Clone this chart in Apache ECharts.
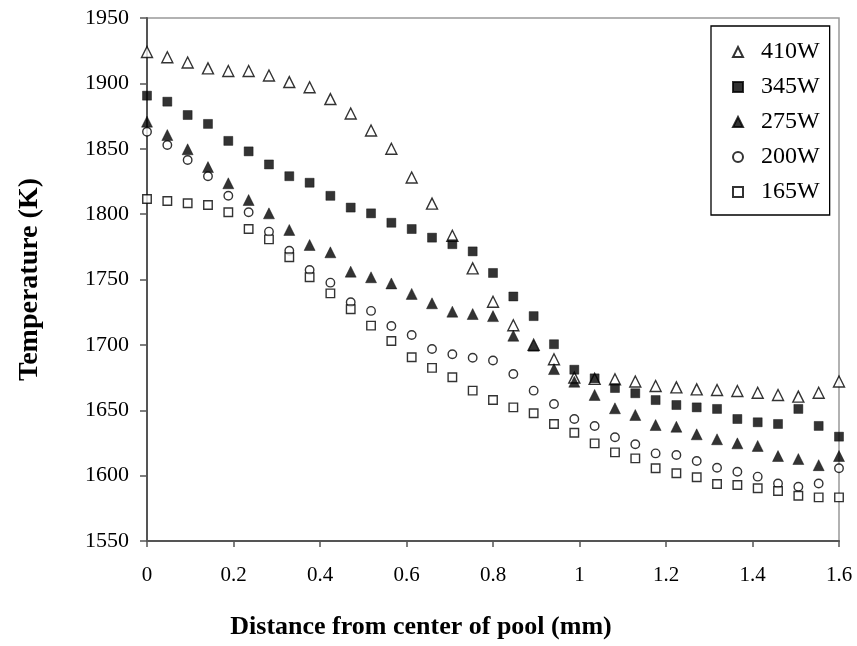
<!DOCTYPE html>
<html>
<head>
<meta charset="utf-8">
<script src="https://cdn.jsdelivr.net/npm/echarts@6/dist/echarts.min.js"></script>
<style>html,body{margin:0;padding:0;background:#fff}#c{width:857px;height:646px}</style>
</head>
<body>
<div id="c"></div>
<script>
var xVals = [0, 0.047, 0.094, 0.141, 0.188, 0.235, 0.282, 0.329, 0.376, 0.424, 0.471, 0.518, 0.565, 0.612, 0.659, 0.706, 0.753, 0.8, 0.847, 0.894, 0.941, 0.988, 1.035, 1.082, 1.129, 1.176, 1.224, 1.271, 1.318, 1.365, 1.412, 1.459, 1.506, 1.553, 1.6];
var t410 = [1924, 1920, 1916, 1911.5, 1909.5, 1909.5, 1906, 1901, 1897, 1888, 1877, 1864, 1850, 1828, 1808, 1783.5, 1758.5, 1733, 1715, 1700, 1689, 1675, 1674, 1673.7, 1672, 1668.5, 1667.5, 1666, 1665.5, 1664.7, 1663.4, 1661.7, 1660.4, 1663.4, 1672];
var t345 = [1890.6, 1886, 1875.8, 1869, 1856, 1848, 1838, 1829, 1824, 1814, 1805, 1800.6, 1793.4, 1788.6, 1782, 1777, 1771.5, 1755, 1737, 1722, 1700.5, 1681, 1674.4, 1667, 1663, 1657.8, 1654, 1652.2, 1651, 1643.3, 1640.8, 1639.5, 1651, 1638, 1629.8];
var t275 = [1870.7, 1860.5, 1849.6, 1836, 1823.6, 1810.8, 1800.6, 1787.9, 1776.4, 1770.8, 1756, 1751.7, 1747, 1739, 1731.8, 1725.4, 1723.6, 1722, 1707, 1699.4, 1681.5, 1671.8, 1661.7, 1651.5, 1646.4, 1638.7, 1637.4, 1631.6, 1627.8, 1624.7, 1622.7, 1615, 1612.7, 1608, 1615];
var t200 = [1863, 1852.9, 1841.4, 1829, 1814, 1801.4, 1786.6, 1772, 1757.3, 1747.6, 1732.6, 1726, 1714.4, 1707.6, 1696.8, 1692.8, 1690.2, 1688, 1677.7, 1665, 1654.8, 1643.3, 1638, 1629.3, 1624, 1617, 1615.8, 1611.2, 1606, 1603, 1599.2, 1594, 1591.5, 1594, 1605.6];
var t165 = [1811.6, 1810, 1808.3, 1807, 1801.4, 1788.6, 1780.7, 1767, 1751.7, 1739.4, 1727.2, 1714.7, 1703, 1690.5, 1682.4, 1675.2, 1665, 1657.8, 1652.2, 1647.7, 1639.5, 1632.8, 1624.7, 1617.8, 1613.2, 1605.6, 1601.8, 1598.7, 1593.6, 1592.8, 1590.3, 1588.2, 1584.6, 1583.4, 1583.4];
var seriesNames = ['410W', '345W', '275W', '200W', '165W'];

var FONT = 'Liberation Serif, Times New Roman, serif';
function pairs(ys) { return xVals.map(function (x, i) { return [x, ys[i]]; }); }
function mk(name, ys, symbol, size, filled) {
  return {
    name: name, type: 'scatter', data: pairs(ys), symbol: symbol, symbolSize: size,
    itemStyle: filled ? { color: '#000', borderColor: '#000', borderWidth: 0.5 }
                      : { color: '#fff', borderColor: '#000', borderWidth: 1.4 },
    emphasis: { disabled: true }
  };
}
var chart = echarts.init(document.getElementById('c'), null, { renderer: 'canvas' });
chart.setOption({
  animation: false,
  backgroundColor: '#fff',
  grid: { left: 147, right: 18, top: 18, bottom: 105, show: true, borderColor: '#999', borderWidth: 1.5, backgroundColor: 'transparent' },
  xAxis: {
    type: 'value', min: 0, max: 1.6, interval: 0.2,
    name: 'Distance from center of pool (mm)', nameLocation: 'middle', nameGap: 73,
    nameTextStyle: { fontFamily: FONT, fontSize: 26, fontWeight: 'bold', color: '#000', padding: [0, 144, 0, 0] },
    axisLine: { show: true, lineStyle: { color: '#555', width: 2 } },
    axisTick: { show: true, inside: false, length: 6, lineStyle: { color: '#555', width: 1.5 } },
    axisLabel: { fontFamily: FONT, fontSize: 21, color: '#000', margin: 24, formatter: function (v) { return String(v); } },
    splitLine: { show: false }
  },
  yAxis: {
    type: 'value', min: 1550, max: 1950, interval: 50,
    name: 'Temperature (K)', nameLocation: 'middle', nameGap: 103,
    nameTextStyle: { fontFamily: FONT, fontSize: 28, fontWeight: 'bold', color: '#000' },
    axisLine: { show: true, lineStyle: { color: '#555', width: 2 } },
    axisTick: { show: true, inside: false, length: 7, lineStyle: { color: '#555', width: 1.5 } },
    axisLabel: { fontFamily: FONT, fontSize: 22, color: '#000', margin: 18, formatter: function (v) { return String(v); } },
    splitLine: { show: false }
  },
  legend: {
    orient: 'vertical', left: 711, top: 26,
    data: seriesNames,
    itemWidth: 10, itemHeight: 10, itemGap: 11,
    padding: [14, 10, 11, 21],
    borderColor: '#000', borderWidth: 1.3, backgroundColor: '#fff',
    textStyle: { fontFamily: FONT, fontSize: 24, color: '#000', lineHeight: 24, padding: [0, 0, 0, 13] },
    selectedMode: false
  },
  series: [
    mk('410W', t410, 'triangle', 11, false),
    mk('345W', t345, 'rect', 9, true),
    mk('275W', t275, 'triangle', 11, true),
    mk('200W', t200, 'circle', 8.5, false),
    mk('165W', t165, 'rect', 8.5, false)
  ]
});
</script>
</body>
</html>
